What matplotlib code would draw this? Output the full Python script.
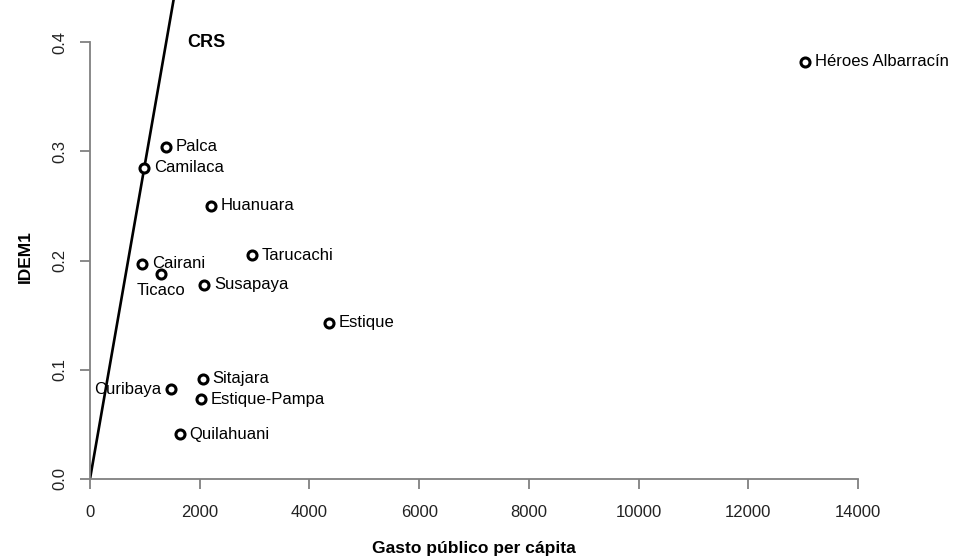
import matplotlib.pyplot as plt

plt.rcParams['font.family'] = ['Liberation Sans', 'DejaVu Sans']

# Distritos: gasto per cápita vs IDEM1
distritos = ['Héroes Albarracín', 'Palca', 'Camilaca', 'Huanuara', 'Tarucachi',
             'Cairani', 'Ticaco', 'Susapaya', 'Estique', 'Curibaya',
             'Sitajara', 'Estique-Pampa', 'Quilahuani']
gasto = [13040, 1380, 990, 2210, 2950, 950, 1290, 2080, 4360, 1470, 2060, 2030, 1640]
idem1 = [0.382, 0.304, 0.285, 0.250, 0.205, 0.197, 0.188, 0.178, 0.143, 0.082, 0.092, 0.073, 0.041]
# posición de la etiqueta respecto al punto
posicion = ['der', 'der', 'der', 'der', 'der', 'der', 'abajo', 'der', 'der', 'izq',
            'der', 'der', 'der']

# frontera CRS: recta por el origen y Camilaca
pendiente_crs = 0.285 / 990

gris = '#808080'

fig = plt.figure(figsize=(9.54, 5.6), dpi=100)
ax = fig.add_axes([90 / 954, 1 - 479 / 560, 768 / 954, 479 / 560])

ax.set_xlim(0, 14000)
ax.set_ylim(0, 0.4385)

xs = [0, 2000]
ax.plot(xs, [pendiente_crs * x for x in xs], color='black', lw=1.9, zorder=2)
ax.text(1770, 0.400, 'CRS', fontsize=13, fontweight='bold', ha='left', va='center')

ax.plot(gasto, idem1, 'o', ms=6.5, mfc='white', mec='black', mew=2.2,
        clip_on=False, zorder=3)

for nombre, x, y, p in zip(distritos, gasto, idem1, posicion):
    if p == 'der':
        ax.annotate(nombre, (x, y), xytext=(7, 0), textcoords='offset points',
                    ha='left', va='center', fontsize=12)
    elif p == 'izq':
        ax.annotate(nombre, (x, y), xytext=(-7, 0), textcoords='offset points',
                    ha='right', va='center', fontsize=12)
    else:
        ax.annotate(nombre, (x, y), xytext=(0, -12), textcoords='offset points',
                    ha='center', va='center', fontsize=12)

for lado in ['top', 'right']:
    ax.spines[lado].set_visible(False)
ax.spines['left'].set_bounds(0, 0.4)
ax.spines['bottom'].set_bounds(0, 14000)
for lado in ['left', 'bottom']:
    ax.spines[lado].set_color(gris)
    ax.spines[lado].set_linewidth(1.3)

ax.set_xticks(range(0, 14001, 2000))
ax.set_yticks([0.0, 0.1, 0.2, 0.3, 0.4])
ax.set_yticklabels(['0.0', '0.1', '0.2', '0.3', '0.4'], rotation=90, va='center')
ax.tick_params(axis='both', color=gris, width=1.3, length=7.5, labelsize=12,
               labelcolor='#222222')
ax.tick_params(axis='x', pad=11.5)
ax.tick_params(axis='y', pad=8.5)

ax.set_xlabel('Gasto público per cápita', fontsize=12.5, fontweight='bold')
ax.set_ylabel('IDEM1', fontsize=12.5, fontweight='bold')
ax.xaxis.set_label_coords(0.5, -0.13)
ax.yaxis.set_label_coords(-0.075, 0.465)

fig.savefig('out.png', dpi=100)
